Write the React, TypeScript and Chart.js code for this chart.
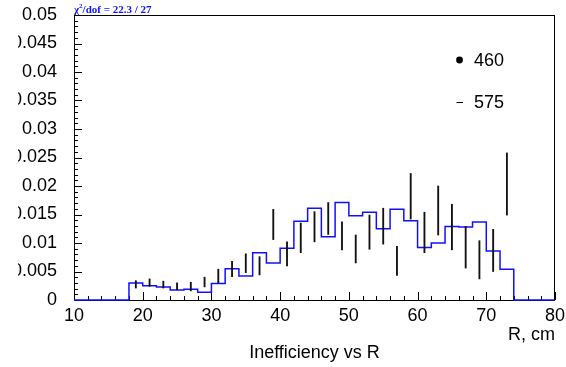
import React, { useEffect, useRef } from 'react';
import { Chart, registerables } from 'chart.js';

Chart.register(...registerables);

// Histogram (blue, "575"): low bin edges (bin width 2 cm) and contents
const binLowEdges = [10, 12, 14, 16, 18, 20, 22, 24, 26, 28, 30, 32, 34, 36, 38, 40, 42, 44, 46, 48, 50, 52, 54, 56, 58, 60, 62, 64, 66, 68, 70, 72, 74, 76, 78];
const binWidth = 2;
const histValues = [0, 0, 0, 0, 0.0030, 0.0025, 0.0023, 0.00175, 0.0019, 0.00135, 0.0029, 0.0055, 0.0042, 0.0083, 0.0065, 0.0091, 0.0138, 0.0161, 0.0111, 0.0171, 0.0148, 0.0154, 0.0125, 0.0159, 0.0139, 0.0092, 0.0100, 0.0129, 0.0128, 0.0137, 0.0086, 0.0054, 0, 0, 0];

// Points with error bars (black, "460")
const pointR = [19, 21, 23, 25, 27, 29, 31, 33, 35, 37, 39, 41, 43, 45, 47, 49, 51, 53, 55, 57, 59, 61, 63, 65, 67, 69, 71, 73];
const pointValues = [0.00275, 0.00305, 0.0027, 0.0024, 0.00235, 0.00315, 0.0042, 0.00545, 0.00645, 0.006, 0.01325, 0.0081, 0.0109, 0.01285, 0.0143, 0.01125, 0.00895, 0.0119, 0.01295, 0.00685, 0.0182, 0.01185, 0.0157, 0.0128, 0.00925, 0.00705, 0.0087, 0.02035];
const pointErrors = [0.00065, 0.00065, 0.0006, 0.0006, 0.00075, 0.00085, 0.0012, 0.00135, 0.00165, 0.0016, 0.00265, 0.0021, 0.0026, 0.00265, 0.0028, 0.00245, 0.00245, 0.003, 0.00315, 0.00255, 0.004, 0.00355, 0.0043, 0.004, 0.00365, 0.00335, 0.0037, 0.00545];

const xTickLabels = ['10', '20', '30', '40', '50', '60', '70', '80'];
const yTickLabels = ['0', '0.005', '0.01', '0.015', '0.02', '0.025', '0.03', '0.035', '0.04', '0.045', '0.05'];
const legendLabels = ['460', '575'];
const fitText = { pre: 'χ', sup: '2', post: '/dof = 22.3 / 27' };
const xTitle = 'R, cm';
const chartTitle = 'Inefficiency vs R';

const X_MIN = 10, X_MAX = 80, Y_MIN = 0, Y_MAX = 0.05;
const BLUE = '#1010ff';
const SANS = "'Liberation Sans', Arial, sans-serif";

const decorPlugin = {
  id: 'rootDecor',
  beforeDatasetsDraw(chart: any) {
    const { ctx, chartArea: a, scales } = chart;
    const xs = scales.x, ys = scales.y;
    ctx.save();
    ctx.strokeStyle = '#000';
    ctx.lineWidth = 1;
    ctx.strokeRect(Math.round(a.left) + 0.5, Math.round(a.top) + 0.5, Math.round(a.right - a.left) - 1, Math.round(a.bottom - a.top));
    // x ticks (inside)
    ctx.beginPath();
    for (let v = X_MIN; v <= X_MAX + 1e-9; v += 2) {
      const px = Math.round(xs.getPixelForValue(v)) + 0.5;
      const len = v % 10 === 0 ? 8 : 4;
      ctx.moveTo(px, a.bottom);
      ctx.lineTo(px, a.bottom - len);
    }
    // y ticks (inside)
    for (let i = 0; i <= 50; i++) {
      const v = i * 0.001;
      const py = Math.round(ys.getPixelForValue(v)) + 0.5;
      const len = i % 5 === 0 ? 8 : 4;
      ctx.moveTo(a.left, py);
      ctx.lineTo(a.left + len, py);
    }
    ctx.stroke();
    ctx.restore();
  },
  afterDraw(chart: any) {
    const { ctx, chartArea: a } = chart;
    ctx.save();
    // the reference crops the left edge of the longest y labels
    ctx.fillStyle = '#fff';
    ctx.fillRect(0, 0, 18, a.bottom + 8);

    // fit text
    ctx.fillStyle = BLUE;
    ctx.textBaseline = 'alphabetic';
    ctx.textAlign = 'left';
    let x = a.left;
    const base = 13;
    ctx.font = "bold 11px 'Liberation Serif', serif";
    ctx.fillText(fitText.pre, x, base);
    x += ctx.measureText(fitText.pre).width;
    ctx.font = "bold 7px 'Liberation Serif', serif";
    ctx.fillText(fitText.sup, x, base - 5);
    x += ctx.measureText(fitText.sup).width;
    ctx.font = "bold 11px 'Liberation Serif', serif";
    ctx.fillText(fitText.post, x, base);

    // legend
    ctx.fillStyle = '#000';
    ctx.beginPath();
    ctx.arc(459.5, 60, 3.4, 0, Math.PI * 2);
    ctx.fill();
    ctx.strokeStyle = '#000';
    ctx.lineWidth = 1;
    ctx.beginPath();
    ctx.moveTo(456.5, 102.5);
    ctx.lineTo(463, 102.5);
    ctx.stroke();
    ctx.font = `18px ${SANS}`;
    ctx.textBaseline = 'middle';
    ctx.fillText(legendLabels[0], 474, 61);
    ctx.fillText(legendLabels[1], 474, 103);

    // bottom title
    ctx.textAlign = 'center';
    ctx.fillText(chartTitle, (a.left + a.right) / 2, 353);
    ctx.restore();
  },
};

export default function App() {
  const ref = useRef<HTMLCanvasElement | null>(null);

  useEffect(() => {
    if (!ref.current) return;
    const histPoints: { x: number; y: number }[] = [];
    binLowEdges.forEach((e, i) => {
      histPoints.push({ x: e, y: histValues[i] });
      histPoints.push({ x: e + binWidth, y: histValues[i] });
    });
    const errBars = pointR.map((r, i) => ({ x: r, y: [pointValues[i] - pointErrors[i], pointValues[i] + pointErrors[i]] }));

    const chart = new Chart(ref.current, {
      type: 'line',
      data: {
        datasets: [
          {
            type: 'bar',
            label: legendLabels[0],
            data: errBars as any,
            backgroundColor: '#111',
            borderWidth: 0,
            barThickness: 1.2,
            grouped: false,
          } as any,
          {
            type: 'line',
            label: legendLabels[1],
            data: histPoints,
            borderColor: BLUE,
            borderWidth: 1.5,
            pointRadius: 0,
            tension: 0,
            fill: false,
            clip: false,
          } as any,
        ],
      },
      plugins: [decorPlugin],
      options: {
        responsive: false,
        animation: false,
        events: [],
        layout: { padding: { left: 0, right: 11, top: 15, bottom: 0 } },
        plugins: { legend: { display: false }, tooltip: { enabled: false }, title: { display: false } },
        scales: {
          x: {
            type: 'linear',
            min: X_MIN,
            max: X_MAX,
            offset: false,
            grid: { display: false, drawTicks: false },
            border: { display: false },
            ticks: {
              stepSize: 10,
              autoSkip: false,
              maxRotation: 0,
              padding: 5,
              color: '#000',
              font: { size: 18, family: SANS },
              callback: (_v: any, i: number) => xTickLabels[i],
            },
            title: {
              display: true,
              text: xTitle,
              align: 'end',
              color: '#000',
              font: { size: 18, family: SANS },
              padding: { top: 0, bottom: 21 },
            },
            afterFit: (s: any) => { s.height = 67; s.paddingLeft = 0; s.paddingRight = 0; },
          },
          y: {
            type: 'linear',
            min: Y_MIN,
            max: Y_MAX,
            grid: { display: false, drawTicks: false },
            border: { display: false },
            ticks: {
              stepSize: 0.005,
              autoSkip: false,
              padding: 17,
              color: '#000',
              font: { size: 18, family: SANS },
              callback: (_v: any, i: number) => yTickLabels[i],
            },
            afterFit: (s: any) => { s.width = 74; s.paddingTop = 0; s.paddingBottom = 0; },
          },
        },
      } as any,
    });
    return () => chart.destroy();
  }, []);

  return (
    <div style={{ position: 'absolute', left: 0, top: 0, width: 566, height: 367, background: '#fff' }}>
      <canvas ref={ref} width={566} height={367} style={{ display: 'block' }} />
    </div>
  );
}
